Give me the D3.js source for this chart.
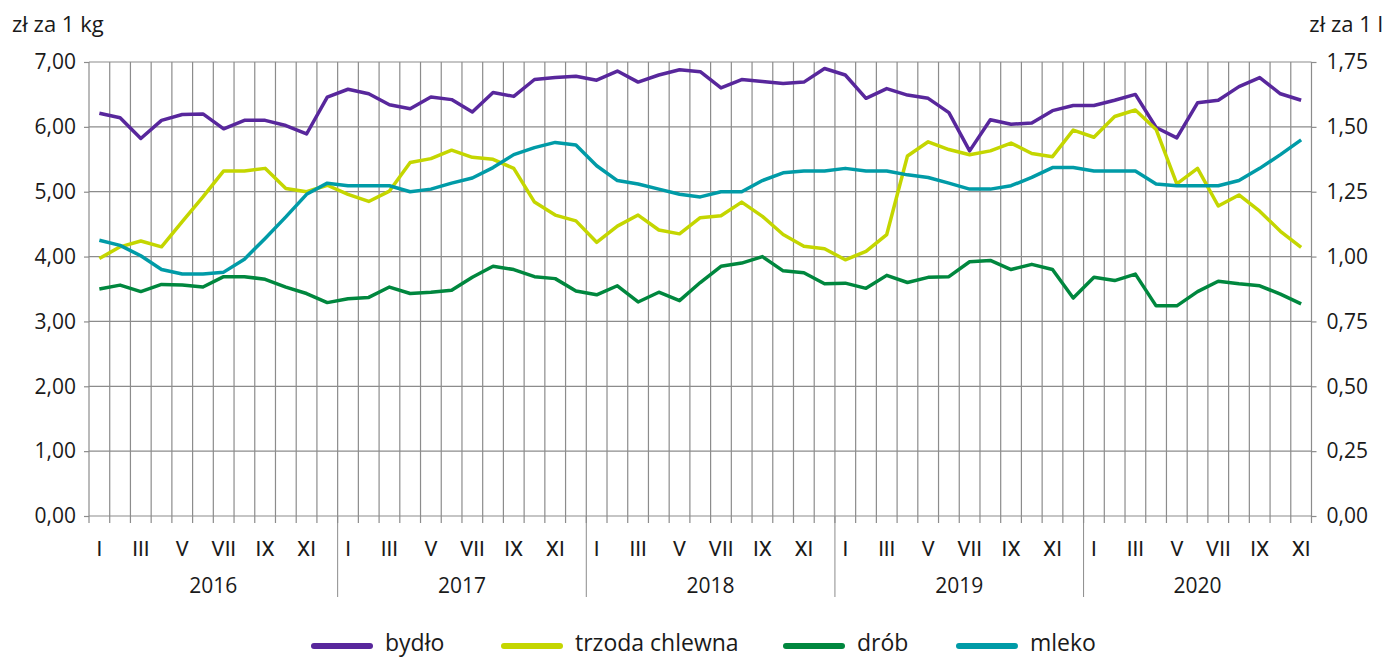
<!DOCTYPE html>
<html>
<head>
<meta charset="utf-8">
<script src="https://cdn.jsdelivr.net/npm/d3@7"></script>
<style>
body{margin:0;background:#fff;}
svg text{font-family:"Open Sans","Noto Sans",sans-serif;fill:#1a1a1a;}
svg text.month{font-family:Roboto,"Liberation Sans",sans-serif;}
</style>
</head>
<body>
<svg id="chart" width="1390" height="657"></svg>
<script>
// miesiace 2016 I - 2020 XI
let years = ["2016","2017","2018","2019","2020"];
let romans = ["I","II","III","IV","V","VI","VII","VIII","IX","X","XI","XII"];
let leftTicks = [0,1,2,3,4,5,6,7];
let rightTicks = [0,0.25,0.5,0.75,1,1.25,1.5,1.75];

// zł za 1 kg
let bydlo = [6.21,6.14,5.82,6.10,6.19,6.20,5.97,6.10,6.10,6.02,5.89,6.46,
    6.58,6.51,6.34,6.28,6.46,6.42,6.23,6.53,6.47,6.73,6.76,6.78,
    6.72,6.86,6.69,6.80,6.88,6.85,6.60,6.73,6.70,6.67,6.69,6.90,
    6.80,6.44,6.59,6.49,6.44,6.22,5.63,6.11,6.04,6.06,6.25,6.33,
    6.33,6.41,6.50,5.99,5.83,6.37,6.41,6.62,6.76,6.51,6.41];
let trzoda = [3.97,4.15,4.24,4.15,4.54,4.92,5.32,5.32,5.36,5.05,5.00,5.10,
    4.96,4.85,5.01,5.45,5.51,5.64,5.53,5.50,5.36,4.84,4.64,4.55,
    4.22,4.47,4.64,4.41,4.35,4.60,4.63,4.84,4.62,4.34,4.16,4.12,
    3.95,4.08,4.34,5.55,5.77,5.65,5.57,5.63,5.75,5.59,5.54,5.95,
    5.84,6.16,6.26,5.96,5.12,5.36,4.78,4.95,4.70,4.39,4.14];
let drob = [3.50,3.56,3.46,3.57,3.56,3.53,3.69,3.69,3.65,3.53,3.43,3.29,
    3.35,3.37,3.53,3.43,3.45,3.48,3.68,3.85,3.80,3.69,3.66,3.47,
    3.41,3.55,3.30,3.45,3.32,3.60,3.85,3.90,4.00,3.78,3.75,3.58,
    3.59,3.51,3.71,3.60,3.68,3.69,3.92,3.94,3.80,3.88,3.80,3.36,
    3.68,3.63,3.73,3.24,3.24,3.46,3.62,3.58,3.55,3.42,3.27];
// zł za 1 l
let mleko = [1.063,1.043,1.003,0.95,0.933,0.933,0.94,0.99,1.07,1.153,1.24,1.283,
    1.273,1.273,1.273,1.25,1.26,1.283,1.303,1.343,1.393,1.42,1.44,1.43,
    1.35,1.293,1.28,1.26,1.24,1.23,1.25,1.25,1.293,1.323,1.33,1.33,
    1.34,1.33,1.33,1.315,1.305,1.283,1.26,1.26,1.273,1.305,1.343,1.343,
    1.33,1.33,1.33,1.28,1.273,1.273,1.273,1.293,1.34,1.393,1.45];

let series = [
    {name:"bydło", values:bydlo, axis:"left", color:"#58279c"},
    {name:"trzoda chlewna", values:trzoda, axis:"left", color:"#c4d600"},
    {name:"drób", values:drob, axis:"left", color:"#00873e"},
    {name:"mleko", values:mleko, axis:"right", color:"#009ba7"}
];

let svg = d3.select("#chart");
let pLeft = 89, pRight = 1311.5, pTop = 62, pBottom = 516;
let n = bydlo.length;

let x = d3.scaleBand().domain(d3.range(n)).range([pLeft, pRight]);
let yL = d3.scaleLinear().domain([0,7]).range([pBottom, pTop]);
let yR = d3.scaleLinear().domain([0,1.75]).range([pBottom, pTop]);
let fmt = d => d.toFixed(2).replace(".", ",");
let grid = "#8c8c8c";

// siatka pionowa
let bounds = d3.range(n + 1).map(i => i < n ? x(i) : pRight);
svg.append("g").selectAll("line")
    .data(bounds).enter().append("line")
    .attr("x1", d => d).attr("x2", d => d)
    .attr("y1", pTop).attr("y2", pBottom + 7)
    .attr("stroke", grid).attr("stroke-width", 1.2);

// siatka pozioma + osie
let gl = svg.append("g").attr("transform", "translate(" + pLeft + ",0)")
    .call(d3.axisLeft(yL).tickValues(leftTicks).tickSize(5).tickPadding(8).tickFormat(fmt));
let gr = svg.append("g").attr("transform", "translate(" + pRight + ",0)")
    .call(d3.axisRight(yR).tickValues(rightTicks).tickSize(5).tickPadding(10).tickFormat(fmt));
[gl, gr].forEach(g => {
    g.select(".domain").remove();
    g.selectAll(".tick line").attr("stroke", grid).attr("stroke-width", 1.2);
    g.selectAll("text").style("font-size", "21px").attr("fill", "#1a1a1a");
});
svg.append("g").selectAll("line")
    .data(leftTicks).enter().append("line")
    .attr("x1", pLeft).attr("x2", pRight)
    .attr("y1", d => yL(d)).attr("y2", d => yL(d))
    .attr("stroke", grid).attr("stroke-width", 1.2);

// separatory lat
svg.append("g").selectAll("line")
    .data(years.slice(1)).enter().append("line")
    .attr("x1", (d, i) => x((i + 1) * 12)).attr("x2", (d, i) => x((i + 1) * 12))
    .attr("y1", pBottom).attr("y2", 597)
    .attr("stroke", grid).attr("stroke-width", 1);

// etykiety miesiecy
svg.append("g").selectAll("text")
    .data(d3.range(n).filter(i => i % 2 === 0)).enter().append("text")
    .attr("class", "month")
    .attr("x", i => x(i) + x.bandwidth() / 2).attr("y", 556)
    .attr("text-anchor", "middle").style("font-size", "21px")
    .text(i => romans[i % 12]);

// etykiety lat
svg.append("g").selectAll("text")
    .data(years).enter().append("text")
    .attr("x", (d, i) => {
        let a = x(i * 12), b = (i * 12 + 12) < n ? x(i * 12 + 12) : pRight;
        return (a + b) / 2;
    })
    .attr("y", 593).attr("text-anchor", "middle").style("font-size", "21px")
    .text(d => d);

// jednostki
svg.append("text").attr("x", 12).attr("y", 32).style("font-size", "22px").text("zł za 1 kg");
svg.append("text").attr("x", 1383).attr("y", 32).attr("text-anchor", "end").style("font-size", "22px").text("zł za 1 l");

// linie
let cx = i => x(i) + x.bandwidth() / 2;
series.forEach(s => {
    let y = s.axis === "left" ? yL : yR;
    let line = d3.line().x((d, i) => cx(i)).y(d => y(d));
    svg.append("path").datum(s.values)
        .attr("d", line).attr("fill", "none")
        .attr("stroke", s.color).attr("stroke-width", 3.5)
        .attr("stroke-linejoin", "round");
});

// legenda
let legX = [314, 504, 786, 959];
let leg = svg.append("g").selectAll("g")
    .data(series).enter().append("g")
    .attr("transform", (d, i) => "translate(" + legX[i] + ",646)");
leg.append("line").attr("x1", 0).attr("x2", 56).attr("y1", 0).attr("y2", 0)
    .attr("stroke", d => d.color).attr("stroke-width", 6).attr("stroke-linecap", "round");
leg.append("text").attr("x", 71).attr("y", 5).style("font-size", "23px").text(d => d.name);
</script>
</body>
</html>
